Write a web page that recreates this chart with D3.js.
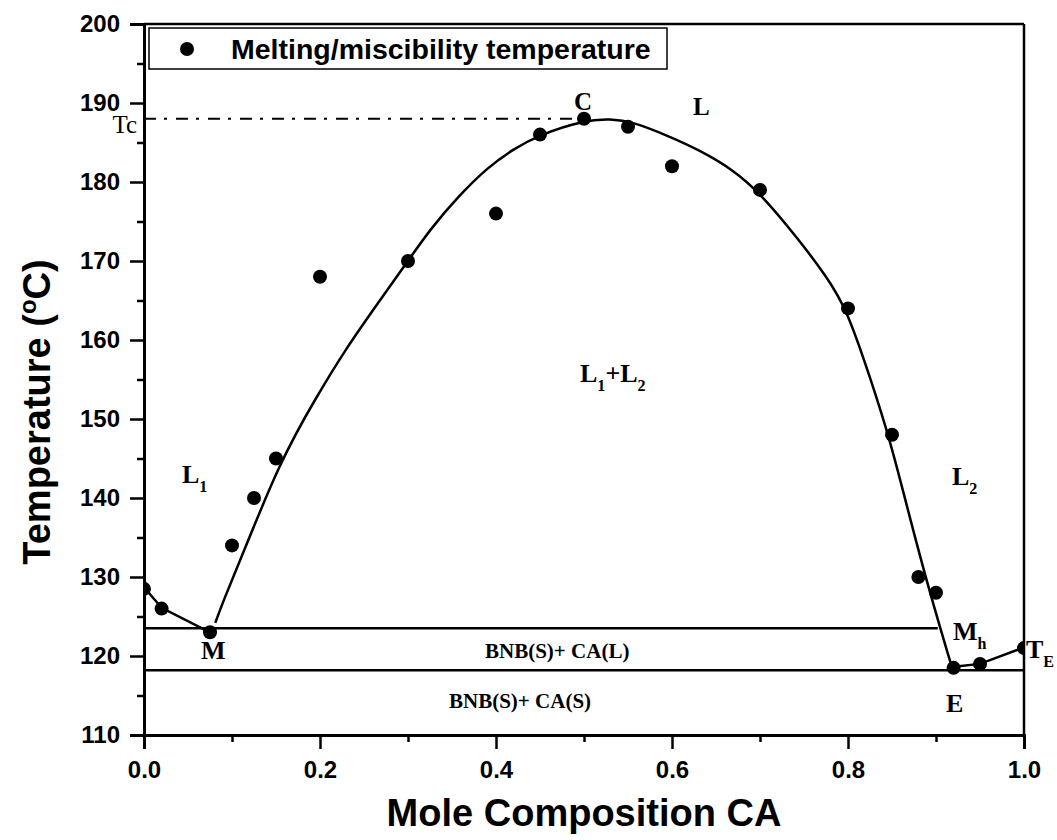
<!DOCTYPE html>
<html><head><meta charset="utf-8">
<script src="https://cdn.jsdelivr.net/npm/d3@7"></script>
<style>body{margin:0;background:#fff}svg{display:block}</style>
</head><body>
<svg id="chart" width="1057" height="840"></svg>
<script>
// Measured melting / miscibility points
const meltX = [0, 0.02, 0.075, 0.1, 0.125, 0.15, 0.2, 0.3, 0.4, 0.45, 0.5, 0.55, 0.6, 0.7, 0.8, 0.85, 0.88, 0.9, 0.92, 0.95, 1.0];
const meltT = [128.5, 126, 123, 134, 140, 145, 168, 170, 176, 186, 188, 187, 182, 179, 164, 148, 130, 128, 118.5, 119, 121];
// Miscibility dome (fitted curve)
const domeX = [0.081, 0.092, 0.105, 0.155, 0.196, 0.230, 0.268, 0.300, 0.325, 0.359, 0.390, 0.42, 0.45, 0.50, 0.53, 0.556, 0.594, 0.632, 0.670, 0.70, 0.742, 0.776, 0.799, 0.825, 0.848, 0.870, 0.893, 0.918];
const domeT = [124.2, 127.5, 130.9, 144.8, 152.8, 159.0, 165.0, 170.0, 174.0, 178.4, 181.8, 184.2, 186.0, 187.8, 188.0, 187.6, 185.9, 184.0, 181.5, 178.6, 173.0, 168.0, 163.8, 155.3, 147.3, 137.6, 128.0, 118.6];
// Liquidus branches
const leftX = [0, 0.02, 0.075];
const leftT = [128.7, 126.1, 123.0];
const rightX = [0.918, 0.95, 1.0];
const rightT = [118.6, 119.0, 121.1];
// Invariant lines
const monotecticT = 123.5, monotecticX = [0, 0.902];
const eutecticT = 118.2, eutecticX = [0, 1.0];
const criticalT = 188, criticalX = [0, 0.5];
// Axes
const xMajor = [0, 0.2, 0.4, 0.6, 0.8, 1.0];
const xMinor = [0.1, 0.3, 0.5, 0.7, 0.9];
const yMajor = [110, 120, 130, 140, 150, 160, 170, 180, 190, 200];
const yMinor = [115, 125, 135, 145, 155, 165, 175, 185, 195];

const svg = d3.select('#chart');
const x = d3.scaleLinear().domain([0, 1]).range([144, 1024]);
const y = d3.scaleLinear().domain([110, 200]).range([735, 24]);
const sans = 'Liberation Sans, Arial, sans-serif';
const serif = 'Liberation Serif, Times New Roman, serif';

// frame top & right
svg.append('line').attr('x1', x(0)).attr('x2', x(1)).attr('y1', y(200)).attr('y2', y(200)).attr('stroke', '#000').attr('stroke-width', 2.5);
svg.append('line').attr('x1', x(1)).attr('x2', x(1)).attr('y1', y(200)).attr('y2', y(110)).attr('stroke', '#000').attr('stroke-width', 2.5);

// x axis
svg.append('g').attr('transform', `translate(0,${y(110)})`)
  .call(d3.axisBottom(x).tickValues(xMajor).tickSize(14).tickPadding(12).tickFormat(d3.format('.1f')));
svg.append('g').attr('transform', `translate(0,${y(110)})`)
  .call(d3.axisBottom(x).tickValues(xMinor).tickSize(7).tickFormat(''))
  .call(g => g.select('.domain').remove());
// y axis
svg.append('g').attr('transform', `translate(${x(0)},0)`)
  .call(d3.axisLeft(y).tickValues(yMajor).tickSize(14).tickPadding(10).tickFormat(d3.format('d')));
svg.append('g').attr('transform', `translate(${x(0)},0)`)
  .call(d3.axisLeft(y).tickValues(yMinor).tickSize(7).tickFormat(''))
  .call(g => g.select('.domain').remove());
svg.selectAll('.domain').attr('stroke-width', 3);
svg.selectAll('.tick line').attr('stroke-width', 2.5);
svg.selectAll('.tick text').attr('font-family', sans).attr('font-weight', 'bold').attr('font-size', 24).attr('fill', '#000');

// axis titles
svg.append('text').attr('x', x(0.5)).attr('y', 826).attr('text-anchor', 'middle')
  .attr('font-family', sans).attr('font-weight', 'bold').attr('font-size', 38).text('Mole Composition CA');
const yt = svg.append('text').attr('transform', 'translate(50,412) rotate(-90)').attr('text-anchor', 'middle')
  .attr('font-family', sans).attr('font-weight', 'bold').attr('font-size', 38);
yt.append('tspan').text('Temperature (');
yt.append('tspan').attr('font-size', 24).attr('dy', -14).text('o');
yt.append('tspan').attr('dy', 14).text('C)');

// invariant lines
const hline = (xs, t, w) => svg.append('line').attr('x1', x(xs[0])).attr('x2', x(xs[1])).attr('y1', y(t)).attr('y2', y(t)).attr('stroke', '#000').attr('stroke-width', w);
hline(monotecticX, monotecticT, 2.5);
hline(eutecticX, eutecticT, 2.5);
hline(criticalX, criticalT, 2).attr('stroke-dasharray', '12,8,3,9');

// curves
const smooth = d3.line().x(d => x(d[0])).y(d => y(d[1])).curve(d3.curveBasis);
svg.append('path').datum(domeX.map((v, i) => [v, domeT[i]]))
  .attr('d', smooth).attr('fill', 'none').attr('stroke', '#000').attr('stroke-width', 2.5);
const lin = d3.line().x(d => x(d[0])).y(d => y(d[1]));
svg.append('path').datum(leftX.map((v, i) => [v, leftT[i]])).attr('d', lin).attr('fill', 'none').attr('stroke', '#000').attr('stroke-width', 2.5);
svg.append('path').datum(rightX.map((v, i) => [v, rightT[i]])).attr('d', lin).attr('fill', 'none').attr('stroke', '#000').attr('stroke-width', 2.5);

// points (clipped to plot area)
svg.append('clipPath').attr('id', 'clip').append('rect').attr('x', x(0)).attr('y', y(200)).attr('width', x(1) - x(0)).attr('height', y(110) - y(200));
svg.append('g').attr('clip-path', 'url(#clip)').selectAll('circle').data(meltX).join('circle')
  .attr('cx', d => x(d)).attr('cy', (d, i) => y(meltT[i])).attr('r', 7).attr('fill', '#000');

// legend
svg.append('rect').attr('x', 149).attr('y', 28).attr('width', 518).attr('height', 41).attr('fill', '#fff').attr('stroke', '#000').attr('stroke-width', 1.5);
svg.append('circle').attr('cx', 187).attr('cy', 49).attr('r', 7).attr('fill', '#000');
svg.append('text').attr('x', 231).attr('y', 59).attr('font-family', sans).attr('font-weight', 'bold').attr('font-size', 28.5).text('Melting/miscibility temperature');

// region labels
function label(px, py, main, sub, size, opts = {}) {
  const t = svg.append('text').attr('x', px).attr('y', py).attr('font-family', serif)
    .attr('font-weight', opts.normal ? 'normal' : 'bold').attr('font-size', size)
    .attr('text-anchor', opts.anchor || 'start');
  main.forEach((m, i) => {
    t.append('tspan').attr('dy', i === 0 ? 0 : -size * 0.35).text(m);
    if (sub[i]) t.append('tspan').attr('font-size', size * 0.62).attr('dy', size * 0.35).text(sub[i]);
  });
  return t;
}
label(137, 133, ['Tc'], [], 25, {normal: true, anchor: 'end'});
label(574, 110, ['C'], [], 25);
label(693, 115, ['L'], [], 25);
label(580, 382, ['L', '+L'], ['1', '2'], 26);
label(182, 483, ['L'], ['1'], 26);
label(952, 485, ['L'], ['2'], 26);
label(201, 659, ['M'], [], 26);
label(953, 640, ['M'], ['h'], 26);
label(1026, 658, ['T'], ['E'], 26);
label(946, 712, ['E'], [], 26);
svg.append('text').attr('x', 485).attr('y', 658).attr('font-family', serif).attr('font-weight', 'bold').attr('font-size', 21).text('BNB(S)+ CA(L)');
svg.append('text').attr('x', 449).attr('y', 708).attr('font-family', serif).attr('font-weight', 'bold').attr('font-size', 21).text('BNB(S)+ CA(S)');
</script>
</body></html>
